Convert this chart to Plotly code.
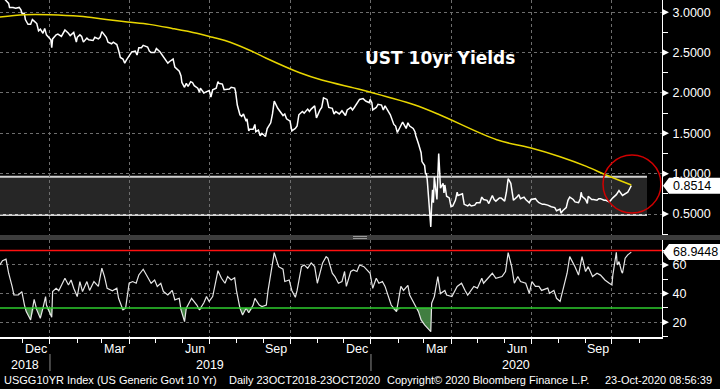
import plotly.graph_objects as go
import pandas as pd
import numpy as np

# ---------------- data ----------------
yield_points = [
("2018-10-23",3.17),("2018-10-26",3.08),("2018-10-31",3.14),("2018-11-02",3.21),("2018-11-05",3.20),
("2018-11-08",3.24),("2018-11-09",3.18),("2018-11-13",3.14),("2018-11-15",3.11),("2018-11-16",3.06),
("2018-11-20",3.06),("2018-11-23",3.05),("2018-11-27",3.06),("2018-11-29",3.03),("2018-11-30",2.99),
("2018-12-03",2.98),("2018-12-04",2.91),("2018-12-06",2.87),("2018-12-07",2.85),("2018-12-10",2.85),
("2018-12-12",2.91),("2018-12-14",2.89),("2018-12-17",2.86),("2018-12-19",2.77),("2018-12-21",2.79),
("2018-12-24",2.74),("2018-12-26",2.80),("2018-12-28",2.72),("2018-12-31",2.68),("2019-01-02",2.66),
("2019-01-03",2.56),("2019-01-04",2.67),("2019-01-08",2.72),("2019-01-10",2.73),("2019-01-14",2.70),
("2019-01-17",2.75),("2019-01-18",2.78),("2019-01-22",2.74),("2019-01-24",2.71),("2019-01-28",2.75),
("2019-01-31",2.63),("2019-02-01",2.69),("2019-02-04",2.72),("2019-02-06",2.70),("2019-02-08",2.63),
("2019-02-12",2.68),("2019-02-14",2.66),("2019-02-19",2.65),("2019-02-21",2.69),("2019-02-25",2.67),
("2019-02-27",2.69),("2019-03-01",2.76),("2019-03-04",2.72),("2019-03-06",2.69),("2019-03-08",2.63),
("2019-03-12",2.61),("2019-03-14",2.63),("2019-03-18",2.60),("2019-03-20",2.53),("2019-03-22",2.44),
("2019-03-25",2.42),("2019-03-27",2.37),("2019-03-29",2.41),("2019-04-02",2.48),("2019-04-04",2.51),
("2019-04-08",2.52),("2019-04-10",2.47),("2019-04-12",2.56),("2019-04-15",2.56),("2019-04-17",2.59),
("2019-04-22",2.57),("2019-04-24",2.52),("2019-04-26",2.50),("2019-04-30",2.50),("2019-05-02",2.55),
("2019-05-06",2.51),("2019-05-08",2.48),("2019-05-13",2.40),("2019-05-15",2.37),("2019-05-17",2.39),
("2019-05-21",2.42),("2019-05-23",2.32),("2019-05-28",2.27),("2019-05-30",2.21),("2019-05-31",2.13),
("2019-06-03",2.07),("2019-06-05",2.12),("2019-06-07",2.08),("2019-06-10",2.14),("2019-06-12",2.13),
("2019-06-14",2.09),("2019-06-18",2.06),("2019-06-20",2.01),("2019-06-21",2.06),("2019-06-25",2.00),
("2019-06-27",2.01),("2019-07-01",2.03),("2019-07-03",1.95),("2019-07-05",2.04),("2019-07-09",2.06),
("2019-07-11",2.14),("2019-07-12",2.12),("2019-07-16",2.11),("2019-07-18",2.04),("2019-07-22",2.05),
("2019-07-24",2.05),("2019-07-26",2.07),("2019-07-30",2.06),("2019-07-31",2.02),("2019-08-01",1.89),
("2019-08-02",1.85),("2019-08-05",1.73),("2019-08-07",1.71),("2019-08-09",1.74),("2019-08-12",1.65),
("2019-08-13",1.68),("2019-08-14",1.58),("2019-08-15",1.53),("2019-08-16",1.55),("2019-08-20",1.55),
("2019-08-22",1.61),("2019-08-23",1.52),("2019-08-26",1.54),("2019-08-28",1.47),("2019-08-30",1.50),
("2019-09-03",1.46),("2019-09-05",1.56),("2019-09-09",1.63),("2019-09-11",1.74),("2019-09-13",1.90),
("2019-09-17",1.81),("2019-09-19",1.78),("2019-09-23",1.72),("2019-09-25",1.74),("2019-09-27",1.68),
("2019-10-01",1.65),("2019-10-03",1.53),("2019-10-07",1.56),("2019-10-09",1.59),("2019-10-11",1.73),
("2019-10-15",1.77),("2019-10-17",1.75),("2019-10-21",1.80),("2019-10-23",1.77),("2019-10-25",1.80),
("2019-10-29",1.84),("2019-10-31",1.69),("2019-11-04",1.79),("2019-11-06",1.82),("2019-11-08",1.94),
("2019-11-12",1.92),("2019-11-14",1.82),("2019-11-18",1.81),("2019-11-20",1.74),("2019-11-22",1.77),
("2019-11-26",1.74),("2019-11-29",1.78),("2019-12-03",1.72),("2019-12-05",1.79),("2019-12-09",1.82),
("2019-12-11",1.79),("2019-12-13",1.82),("2019-12-17",1.89),("2019-12-19",1.92),("2019-12-23",1.93),
("2019-12-26",1.90),("2019-12-30",1.88),("2019-12-31",1.92),("2020-01-02",1.88),("2020-01-03",1.79),
("2020-01-07",1.82),("2020-01-09",1.86),("2020-01-13",1.85),("2020-01-15",1.79),("2020-01-17",1.84),
("2020-01-21",1.77),("2020-01-23",1.73),("2020-01-27",1.61),("2020-01-29",1.59),("2020-01-31",1.51),
("2020-02-04",1.60),("2020-02-06",1.64),("2020-02-10",1.56),("2020-02-12",1.63),("2020-02-14",1.59),
("2020-02-18",1.56),("2020-02-20",1.52),("2020-02-21",1.47),("2020-02-24",1.37),("2020-02-26",1.31),
("2020-02-27",1.26),("2020-02-28",1.15),("2020-03-02",1.10),("2020-03-03",1.00),("2020-03-04",1.00),
("2020-03-05",0.92),("2020-03-06",0.77),("2020-03-09",0.34),("2020-03-10",0.62),("2020-03-11",0.80),
("2020-03-12",0.64),("2020-03-13",0.96),("2020-03-16",0.68),("2020-03-17",0.90),("2020-03-18",1.25),
("2020-03-19",1.05),("2020-03-20",0.82),("2020-03-23",0.88),("2020-03-24",0.76),("2020-03-25",0.86),
("2020-03-26",0.80),("2020-03-27",0.72),("2020-03-30",0.70),("2020-03-31",0.63),("2020-04-01",0.59),
("2020-04-03",0.60),("2020-04-06",0.67),("2020-04-08",0.77),("2020-04-09",0.73),("2020-04-14",0.75),
("2020-04-16",0.62),("2020-04-20",0.60),("2020-04-22",0.62),("2020-04-24",0.60),("2020-04-28",0.61),
("2020-04-30",0.64),("2020-05-04",0.64),("2020-05-06",0.71),("2020-05-08",0.68),("2020-05-12",0.67),
("2020-05-14",0.63),("2020-05-18",0.73),("2020-05-20",0.68),("2020-05-22",0.66),("2020-05-26",0.70),
("2020-05-28",0.70),("2020-06-01",0.66),("2020-06-03",0.77),("2020-06-05",0.94),("2020-06-08",0.88),
("2020-06-10",0.74),("2020-06-11",0.67),("2020-06-15",0.71),("2020-06-17",0.74),("2020-06-19",0.69),
("2020-06-23",0.71),("2020-06-25",0.68),("2020-06-29",0.64),("2020-07-01",0.68),("2020-07-06",0.69),
("2020-07-08",0.66),("2020-07-10",0.64),("2020-07-14",0.62),("2020-07-16",0.62),("2020-07-20",0.61),
("2020-07-22",0.60),("2020-07-24",0.59),("2020-07-28",0.58),("2020-07-30",0.54),("2020-08-03",0.56),
("2020-08-04",0.51),("2020-08-06",0.54),("2020-08-10",0.58),("2020-08-12",0.67),("2020-08-14",0.71),
("2020-08-18",0.68),("2020-08-20",0.65),("2020-08-24",0.64),("2020-08-26",0.69),("2020-08-27",0.77),
("2020-08-28",0.72),("2020-09-01",0.68),("2020-09-03",0.63),("2020-09-04",0.72),("2020-09-08",0.68),
("2020-09-10",0.68),("2020-09-14",0.67),("2020-09-16",0.69),("2020-09-18",0.69),("2020-09-22",0.67),
("2020-09-24",0.67),("2020-09-28",0.65),("2020-09-30",0.68),("2020-10-02",0.70),("2020-10-06",0.74),
("2020-10-08",0.77),("2020-10-09",0.79),("2020-10-13",0.73),("2020-10-15",0.74),("2020-10-19",0.77),
("2020-10-21",0.81),("2020-10-23",0.8514),
]

ma200_points = [
("2018-11-05",2.94),("2018-12-03",2.97),("2019-01-01",2.97),("2019-02-04",2.95),("2019-03-06",2.91),
("2019-03-30",2.88),("2019-04-24",2.85),("2019-05-20",2.80),("2019-06-17",2.74),("2019-07-05",2.69),
("2019-07-19",2.65),("2019-08-16",2.53),("2019-09-04",2.43),("2019-10-12",2.25),("2019-11-06",2.16),
("2019-12-21",2.04),("2020-01-20",1.95),("2020-02-20",1.85),("2020-03-19",1.73),("2020-05-23",1.42),
("2020-06-30",1.32),("2020-08-03",1.21),("2020-09-02",1.09),("2020-09-25",0.98),("2020-10-23",0.86),
]

rsi_points = [
("2018-11-05",60),("2018-11-08",63),("2018-11-12",64),("2018-11-15",54.2),("2018-11-19",44.9),
("2018-11-21",39),("2018-11-26",39),("2018-11-30",41.4),("2018-12-03",32),("2018-12-05",27.4),
("2018-12-10",21.6),("2018-12-14",36),("2018-12-17",28.6),("2018-12-21",22.8),("2018-12-24",29.8),
("2018-12-27",37.9),("2018-12-28",32),("2019-01-03",23.5),("2019-01-04",41.4),("2019-01-08",43.7),
("2019-01-11",42),("2019-01-18",50.7),("2019-01-22",46),("2019-01-25",49.5),("2019-01-28",43.7),
("2019-02-01",37.9),("2019-02-04",48.4),("2019-02-07",41.4),("2019-02-12",48.4),("2019-02-15",42.2),
("2019-02-20",48.4),("2019-02-25",45),("2019-03-01",57.7),("2019-03-04",51.9),("2019-03-07",43.7),
("2019-03-13",42),("2019-03-18",43.7),("2019-03-20",36.7),("2019-03-25",28.6),("2019-03-28",29.8),
("2019-04-01",47.2),("2019-04-05",48.4),("2019-04-09",47.2),("2019-04-12",53),("2019-04-17",57),
("2019-04-22",51.9),("2019-04-26",47.2),("2019-04-30",49.5),("2019-05-03",45),("2019-05-07",47.2),
("2019-05-10",41.4),("2019-05-15",39),("2019-05-20",42.2),("2019-05-23",35.6),("2019-05-28",36.7),
("2019-05-30",28.6),("2019-06-03",20.4),("2019-06-05",29.8),("2019-06-11",36.7),("2019-06-17",32),
("2019-06-20",28.6),("2019-06-25",33.6),("2019-06-28",37.9),("2019-07-01",34.5),("2019-07-05",37.9),
("2019-07-11",56),("2019-07-15",50.7),("2019-07-19",47.2),("2019-07-22",51.9),("2019-07-26",49.5),
("2019-07-30",51),("2019-08-01",42.2),("2019-08-05",29.8),("2019-08-08",25.1),("2019-08-12",29.8),
("2019-08-15",26.6),("2019-08-20",32),("2019-08-22",36.7),("2019-08-27",32),("2019-08-30",30.9),
("2019-09-04",32),("2019-09-06",42.2),("2019-09-10",57.7),("2019-09-13",68.6),("2019-09-18",58.8),
("2019-09-23",57),("2019-09-25",48.4),("2019-09-30",49.5),("2019-10-03",42.2),("2019-10-07",37.4),
("2019-10-09",42.2),("2019-10-14",58.8),("2019-10-17",60),("2019-10-21",57.7),("2019-10-25",61.4),
("2019-10-29",58.8),("2019-11-01",47.2),("2019-11-07",61.4),("2019-11-11",65.8),("2019-11-13",64.7),
("2019-11-18",54.2),("2019-11-21",51.9),("2019-11-25",47.2),("2019-11-29",48.4),("2019-12-02",55.4),
("2019-12-04",45),("2019-12-09",55.4),("2019-12-12",56.5),("2019-12-16",55.4),("2019-12-19",60),
("2019-12-24",58.8),("2019-12-31",54.2),("2020-01-03",43.7),("2020-01-07",50.7),("2020-01-10",47.2),
("2020-01-14",48.4),("2020-01-17",45),("2020-01-24",32),("2020-01-30",27.4),("2020-02-04",45),
("2020-02-07",42.2),("2020-02-12",45.8),("2020-02-14",39),("2020-02-21",30.9),("2020-02-24",27.4),
("2020-02-27",21.6),("2020-03-02",18.1),("2020-03-09",13.4),("2020-03-10",33.3),("2020-03-13",37.9),
("2020-03-17",51.9),("2020-03-20",40),("2020-03-25",42.2),("2020-03-27",39),("2020-04-02",37.9),
("2020-04-08",45),("2020-04-13",47.2),("2020-04-17",42.2),("2020-04-20",39),("2020-04-27",45),
("2020-05-01",43.8),("2020-05-06",50.7),("2020-05-08",47.2),("2020-05-13",50.7),("2020-05-18",54.2),
("2020-05-22",50.7),("2020-05-29",51.9),("2020-06-02",55.4),("2020-06-05",68.6),("2020-06-09",58.8),
("2020-06-12",47.2),("2020-06-16",51.9),("2020-06-19",48.4),("2020-06-25",47.2),("2020-06-29",40.2),
("2020-07-02",48.4),("2020-07-06",45),("2020-07-10",45),("2020-07-13",42.2),("2020-07-20",43.8),
("2020-07-22",40.2),("2020-07-27",42.2),("2020-07-30",36.7),("2020-08-03",34.5),("2020-08-06",42.2),
("2020-08-11",54.2),("2020-08-14",65.8),("2020-08-20",58.8),("2020-08-24",52.9),("2020-08-28",65.8),
("2020-09-01",55.4),("2020-09-04",58.8),("2020-09-09",51.9),("2020-09-14",54.2),("2020-09-18",52.9),
("2020-09-23",49.5),("2020-09-28",47.2),("2020-10-01",46),("2020-10-02",52.9),("2020-10-05",66.5),
("2020-10-06",68.8),("2020-10-07",60),("2020-10-09",62.3),("2020-10-12",55.3),("2020-10-13",54.2),
("2020-10-16",64.7),("2020-10-19",67),("2020-10-23",68.9448),
]

price_ticks = [0.5, 1.0, 1.5, 2.0, 2.5, 3.0]
price_minor = [0.25, 0.75, 1.25, 1.75, 2.25, 2.75]
rsi_ticks = [20, 40, 60]
rsi_minor = [10, 30, 50, 70]
rsi_upper, rsi_lower = 70, 30
band_low, band_high = 0.488, 0.962
month_labels = [("2018-12-16","Dec"),("2019-03-16","Mar"),("2019-06-15","Jun"),("2019-09-15","Sep"),
                ("2019-12-16","Dec"),("2020-03-16","Mar"),("2020-06-15","Jun"),("2020-09-15","Sep")]
years = ["2018", "2019", "2020"]
title_text = "UST 10yr Yields"
footer_parts = [(2, "USGG10YR Index (US Generic Govt 10 Yr)"), (227, "Daily 23OCT2018-23OCT2020"),
                (385, "Copyright\u00a9 2020 Bloomberg Finance L.P."), (603, "23-Oct-2020 08:56:39")]

# ---------------- geometry ----------------
W, H = 720, 389
ML, MR, MT, MB = 0, 58, 0, 52
PW, PH = W - ML - MR, H - MT - MB
def pyp(p):  # pixel y -> paper
    return (PH - p) / PH
def pxp(p):  # pixel x -> paper
    return p / PW

top_dom = [pyp(235), 1.0]
bot_dom = [0.0, pyp(240)]
top_rng = [0.240, 3.152]
bot_rng = [9.7, 77.4]
x_rng = ["2018-11-05 04:00", "2020-11-26 22:00"]
top_ppu = (top_dom[1] - top_dom[0]) * PH / (top_rng[1] - top_rng[0])
bot_ppu = (bot_dom[1] - bot_dom[0]) * PH / (bot_rng[1] - bot_rng[0])

yd = [d for d, v in yield_points]; yv = [v for d, v in yield_points]
md = [d for d, v in ma200_points]; mv = [v for d, v in ma200_points]
rd = [d for d, v in rsi_points]; rv = np.array([v for d, v in rsi_points], dtype=float)

FONT = "Liberation Sans, Arial, sans-serif"
GRID = "#6e6e6e"

fig = go.Figure()
fig.add_trace(go.Scatter(x=yd, y=yv, mode="lines", line=dict(color="white", width=1.5),
                         xaxis="x2", yaxis="y", hoverinfo="skip"))
fig.add_trace(go.Scatter(x=md, y=mv, mode="lines", line=dict(color="#e8d600", width=1.5, shape="spline"),
                         xaxis="x2", yaxis="y", hoverinfo="skip"))
fig.add_trace(go.Scatter(x=rd, y=[rsi_lower] * len(rd), mode="lines", line=dict(width=0, color="rgba(0,0,0,0)"),
                         xaxis="x", yaxis="y2", hoverinfo="skip"))
fig.add_trace(go.Scatter(x=rd, y=np.minimum(rv, rsi_lower), mode="lines", line=dict(width=0, color="rgba(0,0,0,0)"),
                         fill="tonexty", fillcolor="rgba(72,140,72,0.9)", xaxis="x", yaxis="y2", hoverinfo="skip"))
fig.add_trace(go.Scatter(x=rd, y=rv, mode="lines", line=dict(color="#e6e6e6", width=1.2),
                         xaxis="x", yaxis="y2", hoverinfo="skip"))

quarters = pd.date_range("2019-01-01", "2020-10-01", freq="QS")
months = pd.date_range("2018-12-01", "2020-11-01", freq="MS")

shapes = []
# shaded band
shapes.append(dict(type="rect", xref="paper", yref="y", x0=0, x1=pxp(647), y0=band_low, y1=band_high,
                   fillcolor="#262626", line=dict(width=0), layer="below"))
for yb in (band_low, band_high):
    shapes.append(dict(type="line", xref="paper", yref="y", x0=0, x1=pxp(647), y0=yb, y1=yb,
                       line=dict(color="#d0d0d0", width=2), layer="below"))
# separator between panels
shapes.append(dict(type="rect", xref="paper", yref="paper", x0=0, x1=W / PW, y0=pyp(240), y1=pyp(235),
                   fillcolor="#3c3c3c", line=dict(width=0)))
for p in (236.5, 238.5):
    shapes.append(dict(type="line", xref="paper", yref="paper", x0=pxp(353), x1=pxp(367), y0=pyp(p), y1=pyp(p),
                       line=dict(color="#9a9a9a", width=1)))
# rsi levels
shapes.append(dict(type="line", xref="paper", yref="y2", x0=0, x1=1, y0=rsi_upper, y1=rsi_upper,
                   line=dict(color="#ff1010", width=1.5)))
shapes.append(dict(type="line", xref="paper", yref="y2", x0=0, x1=1, y0=rsi_lower, y1=rsi_lower,
                   line=dict(color="#2ecc2e", width=1.5)))
# red circle
shapes.append(dict(type="circle", xref="paper", yref="y", xsizemode="pixel", ysizemode="pixel",
                   xanchor=pxp(632), yanchor=0.872, x0=-29, x1=29, y0=-29, y1=29,
                   line=dict(color="#d00000", width=1.5)))
# triangle tick markers
tw = 7 / PW
for v in price_ticks:
    h = 3.5 / top_ppu
    shapes.append(dict(type="path", xref="paper", yref="y",
                       path=f"M 1,{v+h} L {1+tw},{v} L 1,{v-h} Z", fillcolor="white", line=dict(width=0)))
for v in rsi_ticks:
    h = 3.5 / bot_ppu
    shapes.append(dict(type="path", xref="paper", yref="y2",
                       path=f"M 1,{v+h} L {1+tw},{v} L 1,{v-h} Z", fillcolor="white", line=dict(width=0)))
# last value boxes
for val, yref, ppu in ((yv[-1], "y", top_ppu), (rv[-1], "y2", bot_ppu)):
    hh = 8 / ppu
    shapes.append(dict(type="path", xref="paper", yref=yref,
                       path=f"M {pxp(663)},{val} L {pxp(669)},{val+hh} L {W/PW},{val+hh} L {W/PW},{val-hh} L {pxp(669)},{val-hh} Z",
                       fillcolor="white", line=dict(width=0)))
# year separators under the axis
for yr in ("2019-01-01", "2020-01-01"):
    shapes.append(dict(type="line", xref="x", yref="paper", x0=yr, x1=yr, y0=pyp(354), y1=pyp(371),
                       line=dict(color="#8a8a8a", width=1)))

annotations = []
annotations.append(dict(text=f"<b>{title_text}</b>", xref="paper", yref="paper", x=pxp(440), y=pyp(58),
                        xanchor="center", yanchor="middle", showarrow=False,
                        font=dict(family="DejaVu Sans", size=17, color="white")))
annotations.append(dict(text=f"{yv[-1]:.4f}", xref="paper", yref="y", x=pxp(671), y=yv[-1], xanchor="left",
                        yanchor="middle", showarrow=False, font=dict(family=FONT, size=12.5, color="black")))
annotations.append(dict(text=f"{rv[-1]:.4f}", xref="paper", yref="y2", x=pxp(671), y=rv[-1], xanchor="left",
                        yanchor="middle", showarrow=False, font=dict(family=FONT, size=12.5, color="black")))
for d, t in month_labels:
    annotations.append(dict(text=t, xref="x", yref="paper", x=d, y=pyp(349), xanchor="center", yanchor="middle",
                            showarrow=False, font=dict(family=FONT, size=12.5, color="white")))
x0 = pd.Timestamp(x_rng[0]); x1 = pd.Timestamp(x_rng[1])
bounds = [x0, pd.Timestamp("2019-01-01"), pd.Timestamp("2020-01-01"), x1]
for i, yr in enumerate(years):
    mid = bounds[i] + (bounds[i + 1] - bounds[i]) / 2
    annotations.append(dict(text=yr, xref="x", yref="paper", x=mid, y=pyp(364.5), xanchor="center",
                            yanchor="middle", showarrow=False, font=dict(family=FONT, size=12.5, color="white")))
for xp, t in footer_parts:
    annotations.append(dict(text=t, xref="paper", yref="paper", x=pxp(xp), y=pyp(380), xanchor="left",
                            yanchor="middle", showarrow=False, font=dict(family=FONT, size=11, color="white")))

grid = dict(showgrid=True, gridcolor=GRID, griddash="3px,3px", gridwidth=1, zeroline=False)

fig.update_layout(
    width=W, height=H, margin=dict(l=ML, r=MR, t=MT, b=MB),
    paper_bgcolor="black", plot_bgcolor="black", showlegend=False,
    font=dict(family=FONT, color="white"),
    xaxis=dict(domain=[0, 1], anchor="y2", type="date", range=x_rng, tickmode="array", tickvals=list(quarters),
               showticklabels=False, ticks="outside", ticklen=5, tickcolor="white", tickwidth=1,
               showline=True, linecolor="white", linewidth=2,
               minor=dict(tickmode="array", tickvals=list(months), ticks="outside", ticklen=4,
                          tickcolor="white", showgrid=False), **grid),
    xaxis2=dict(domain=[0, 1], anchor="y", type="date", matches="x", range=x_rng, tickmode="array",
                tickvals=list(quarters), showticklabels=False, ticks="", showline=False, **grid),
    yaxis=dict(domain=top_dom, anchor="x2", side="right", range=top_rng, tickmode="array",
               tickvals=price_ticks, ticktext=[f"{v:.4f}" for v in price_ticks],
               ticks="outside", ticklen=7, tickcolor="rgba(0,0,0,0)",
               tickfont=dict(family=FONT, size=12.5, color="white"),
               showline=True, linecolor="white", linewidth=1,
               minor=dict(tickmode="array", tickvals=price_minor, ticks="outside", ticklen=5,
                          tickcolor="white", showgrid=False), **grid),
    yaxis2=dict(domain=bot_dom, anchor="x", side="right", range=bot_rng, tickmode="array",
                tickvals=rsi_ticks, ticktext=[str(v) for v in rsi_ticks],
                ticks="outside", ticklen=7, tickcolor="rgba(0,0,0,0)",
                tickfont=dict(family=FONT, size=12.5, color="white"),
                showline=True, linecolor="white", linewidth=1,
                minor=dict(tickmode="array", tickvals=rsi_minor, ticks="outside", ticklen=5,
                           tickcolor="white", showgrid=False), **grid),
    shapes=shapes, annotations=annotations,
)

fig.write_html("out.html", config={"displayModeBar": False, "staticPlot": True},
               post_script="document.body.style.margin='0';document.body.style.background='black';")
